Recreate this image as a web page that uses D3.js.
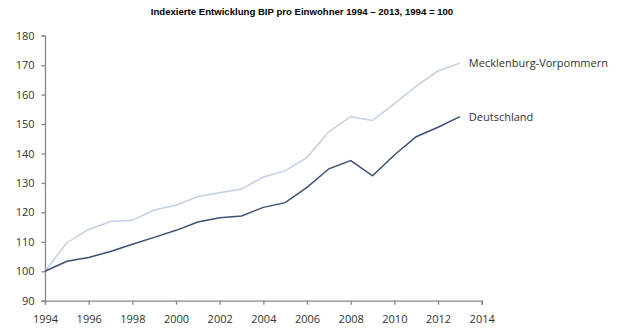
<!DOCTYPE html>
<html>
<head>
<meta charset="utf-8">
<script src="https://cdn.jsdelivr.net/npm/d3@7"></script>
<style>
  body { margin: 0; background: #fff; }
  svg { display: block; }
</style>
</head>
<body>
<svg id="chart" width="620" height="329"></svg>
<script>
const years = d3.range(1994, 2014);
const deutschland = [100, 103.4, 104.7, 106.7, 109.2, 111.5, 113.9, 116.7, 118.2, 118.8,
  121.7, 123.3, 128.5, 134.8, 137.6, 132.4, 139.5, 145.7, 148.9, 152.5];
const mecklenburg = [100, 109.7, 114.2, 116.9, 117.3, 120.8, 122.4, 125.4, 126.7, 127.9,
  132.0, 134.1, 138.7, 147.4, 152.5, 151.2, 156.9, 162.9, 168.0, 170.7];
const xTicks = d3.range(1994, 2015, 2);
const yTicks = d3.range(90, 181, 10);
const seriesNames = ["Mecklenburg-Vorpommern", "Deutschland"];
const title = "Indexierte Entwicklung BIP pro Einwohner 1994 – 2013, 1994 = 100";

const svg = d3.select("#chart");
const margin = { top: 35.7, left: 45, right: 138.3, bottom: 28.3 };
const width = 620, height = 329;

const x = d3.scaleLinear().domain([1994, 2014]).range([margin.left, width - margin.right]);
const y = d3.scaleLinear().domain([90, 180]).range([height - margin.bottom, margin.top]);

// title
svg.append("text")
  .attr("x", 302)
  .attr("y", 14.5)
  .attr("text-anchor", "middle")
  .attr("font-family", "'Liberation Sans Narrow', 'Arial Narrow', sans-serif")
  .attr("font-weight", "bold")
  .attr("font-size", "9.6px")
  .attr("fill", "#000")
  .text(title);

const axisColor = "#868686";
const textColor = "#333";

const yAxis = svg.append("g")
  .attr("transform", `translate(${margin.left},0)`)
  .call(d3.axisLeft(y).tickValues(yTicks).tickSize(3.5).tickPadding(7).tickFormat(d3.format("d")));

const xAxis = svg.append("g")
  .attr("transform", `translate(0,${y(90)})`)
  .call(d3.axisBottom(x).tickValues(xTicks).tickSize(4).tickPadding(11).tickFormat(d3.format("d")));

[yAxis, xAxis].forEach(g => {
  g.select(".domain").attr("stroke", axisColor).attr("stroke-width", 1.3);
  g.selectAll(".tick line").attr("stroke", axisColor).attr("stroke-width", 1.3);
  g.selectAll(".tick text")
    .attr("fill", textColor)
    .attr("font-family", "'Open Sans', sans-serif")
    .attr("font-size", "11px");
});

const line = d3.line()
  .x((d, i) => x(years[i]))
  .y(d => y(d));

const series = [
  { name: seriesNames[0], values: mecklenburg, color: "#c3cfe2" },
  { name: seriesNames[1], values: deutschland, color: "#3b5075" }
];

series.forEach(s => {
  svg.append("path")
    .datum(s.values)
    .attr("fill", "none")
    .attr("stroke", s.color)
    .attr("stroke-width", 1.5)
    .attr("d", line);

  svg.append("text")
    .attr("x", x(2013) + 9)
    .attr("y", y(s.values[s.values.length - 1]))
    .attr("dy", "0.35em")
    .attr("fill", textColor)
    .attr("font-family", "'Open Sans', sans-serif")
    .attr("font-size", "11px")
    .text(s.name);
});
</script>
</body>
</html>
